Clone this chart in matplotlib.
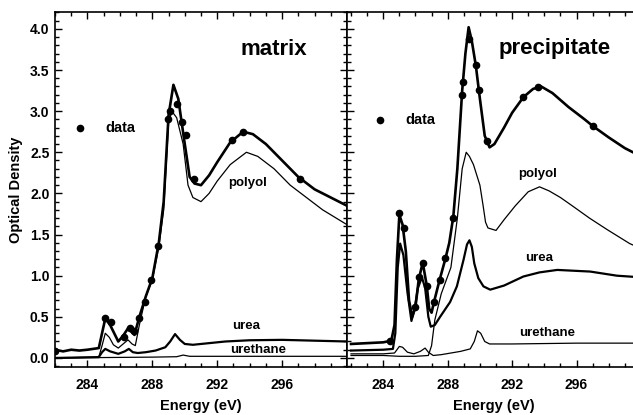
import matplotlib
matplotlib.use("Agg")
import matplotlib.pyplot as plt
from matplotlib.ticker import MultipleLocator

plt.rcParams['font.family'] = ['Liberation Sans', 'DejaVu Sans']
plt.rcParams['font.weight'] = 'bold'

# ---------------- matrix panel ----------------
m_total_x = [282.0, 282.5, 283.0, 283.5, 284.0, 284.7, 284.9, 285.1, 285.4, 285.9, 286.2, 286.5, 286.9,
             287.2, 287.6, 288.0, 288.4, 288.7, 289.0, 289.3, 289.6, 290.0, 290.3, 290.6, 291.0, 291.5,
             292.0, 292.8, 293.6, 294.2, 295.0, 296.0, 297.0, 298.0, 299.0, 300.0]
m_total_y = [0.10, 0.08, 0.10, 0.09, 0.10, 0.12, 0.30, 0.48, 0.40, 0.20, 0.27, 0.36, 0.28,
             0.50, 0.75, 0.97, 1.40, 1.90, 2.95, 3.32, 3.15, 2.60, 2.20, 2.12, 2.10, 2.22,
             2.38, 2.62, 2.75, 2.72, 2.60, 2.40, 2.20, 2.05, 1.95, 1.85]

m_polyol_x = [282.0, 284.7, 284.9, 285.1, 285.35, 285.6, 285.9, 286.2, 286.5, 286.75, 286.95, 287.2,
              287.6, 288.0, 288.4, 288.7, 289.0, 289.2, 289.5, 289.9, 290.2, 290.5, 291.0, 291.5,
              292.0, 292.8, 293.8, 294.5, 295.5, 296.5, 297.5, 298.5, 300.0]
m_polyol_y = [0.00, 0.01, 0.15, 0.30, 0.25, 0.16, 0.12, 0.17, 0.22, 0.17, 0.15, 0.40,
              0.75, 0.95, 1.35, 1.80, 2.85, 3.00, 2.92, 2.60, 2.10, 1.95, 1.90, 2.00,
              2.15, 2.35, 2.50, 2.45, 2.30, 2.10, 1.95, 1.80, 1.62]

m_urea_x = [282.0, 284.7, 284.9, 285.1, 285.4, 285.9, 286.3, 286.55, 286.8, 287.1, 287.6, 288.2,
            288.8, 289.1, 289.4, 289.7, 290.0, 290.5, 291.5, 292.5, 294.0, 296.0, 298.0, 300.0]
m_urea_y = [0.00, 0.01, 0.07, 0.11, 0.08, 0.05, 0.08, 0.11, 0.07, 0.06, 0.07, 0.09,
            0.13, 0.20, 0.29, 0.22, 0.17, 0.16, 0.18, 0.20, 0.215, 0.22, 0.21, 0.20]

m_ureth_x = [282.0, 288.0, 289.5, 289.9, 290.3, 292.0, 300.0]
m_ureth_y = [0.00, 0.01, 0.015, 0.035, 0.02, 0.02, 0.02]

m_data_x = [282.0, 285.1, 285.45, 286.25, 286.6, 286.85, 287.2, 287.55, 287.9, 288.35, 288.95,
            289.1, 289.5, 289.8, 290.05, 290.55, 292.9, 293.6, 297.1]
m_data_y = [0.09, 0.48, 0.44, 0.26, 0.36, 0.33, 0.48, 0.68, 0.95, 1.36, 2.91,
            3.00, 3.09, 2.87, 2.71, 2.18, 2.65, 2.75, 2.17]

# ---------------- precipitate panel ----------------
p_total_x = [282.0, 283.0, 284.0, 284.5, 284.7, 284.85, 285.0, 285.2, 285.4, 285.6, 285.8, 286.0,
             286.2, 286.45, 286.7, 286.85, 287.0, 287.15, 287.5, 287.85, 288.1, 288.35, 288.6, 288.9,
             289.1, 289.3, 289.5, 289.75, 290.0, 290.3, 290.6, 290.9, 291.5, 292.0, 292.7, 293.3,
             293.8, 294.5, 295.5, 296.5, 297.0, 298.0, 299.0, 300.0]
p_total_y = [0.17, 0.18, 0.19, 0.21, 0.40, 1.20, 1.74, 1.62, 1.30, 0.70, 0.50, 0.62,
             0.95, 1.16, 0.88, 0.60, 0.55, 0.68, 0.95, 1.20, 1.40, 1.72, 2.30, 3.25,
             3.70, 4.02, 3.85, 3.55, 3.15, 2.70, 2.56, 2.60, 2.80, 2.98, 3.17, 3.27,
             3.30, 3.22, 3.05, 2.90, 2.82, 2.68, 2.55, 2.45]

p_polyol_x = [282.0, 284.0, 285.0, 286.0, 286.8, 287.0, 287.2, 287.6, 288.2, 288.6, 288.9, 289.15,
              289.35, 289.6, 290.0, 290.2, 290.35, 290.5, 291.0, 291.5, 292.2, 293.0, 293.7, 294.3,
              295.0, 295.8, 296.8, 297.9, 299.3, 300.0]
p_polyol_y = [0.03, 0.03, 0.02, 0.02, 0.03, 0.15, 0.46, 0.78, 1.10, 1.70, 2.30, 2.50,
              2.45, 2.35, 2.10, 1.85, 1.65, 1.58, 1.55, 1.68, 1.85, 2.02, 2.08, 2.03,
              1.95, 1.84, 1.70, 1.56, 1.39, 1.33]

p_urea_x = [282.0, 284.0, 284.6, 284.75, 284.9, 285.05, 285.25, 285.5, 285.75, 285.95, 286.15, 286.4,
            286.6, 286.8, 286.95, 287.2, 287.53, 288.15, 288.57, 288.98, 289.2, 289.35, 289.5, 289.65,
            289.9, 290.22, 290.64, 291.5, 292.7, 293.7, 294.8, 296.85, 298.5, 300.0]
p_urea_y = [0.09, 0.10, 0.11, 0.30, 1.10, 1.39, 1.25, 0.80, 0.45, 0.60, 0.85, 0.98,
            0.85, 0.50, 0.38, 0.40, 0.50, 0.68, 0.87, 1.19, 1.38, 1.43, 1.35, 1.15,
            0.97, 0.87, 0.83, 0.88, 0.99, 1.04, 1.07, 1.05, 1.00, 0.98]

p_ureth_x = [282.0, 284.0, 284.7, 285.0, 285.2, 285.5, 285.9, 286.3, 286.6, 286.8, 287.1, 287.6,
             288.2, 288.8, 289.4, 289.65, 289.85, 290.05, 290.3, 290.6, 292.0, 296.0, 300.0]
p_ureth_y = [0.05, 0.05, 0.06, 0.14, 0.13, 0.07, 0.05, 0.08, 0.12, 0.07, 0.03, 0.04,
             0.06, 0.08, 0.11, 0.20, 0.33, 0.30, 0.20, 0.17, 0.17, 0.18, 0.18]

p_data_x = [284.45, 285.0, 285.3, 285.95, 286.2, 286.45, 286.7, 287.15, 287.5, 287.85, 288.35,
            288.9, 288.95, 289.3, 289.75, 289.95, 290.45, 292.7, 293.6, 297.0]
p_data_y = [0.20, 1.76, 1.58, 0.62, 0.99, 1.15, 0.87, 0.68, 0.95, 1.21, 1.70,
            3.20, 3.36, 3.88, 3.56, 3.26, 2.64, 3.17, 3.29, 2.82]

xticks = [284, 288, 292, 296]
yticks = [0.0, 0.5, 1.0, 1.5, 2.0, 2.5, 3.0, 3.5, 4.0]

W, H = 633, 415
fig = plt.figure(figsize=(W / 100, H / 100), dpi=100)
ax1 = fig.add_axes([55 / W, (H - 367) / H, 292 / W, 355 / H])
ax2 = fig.add_axes([347 / W, (H - 367) / H, 294 / W, 355 / H])

THICK, MED, THIN = 1.9, 1.6, 0.9

def style(ax, xlim, show_y):
    ax.set_xlim(*xlim)
    ax.set_ylim(-0.11, 4.205)
    ax.set_xticks(xticks)
    ax.xaxis.set_minor_locator(MultipleLocator(1))
    ax.yaxis.set_minor_locator(MultipleLocator(0.1))
    ax.set_yticks(yticks)
    ax.tick_params(which='both', direction='in', top=True, right=True, width=1.0, colors='black')
    ax.tick_params(which='major', length=5)
    ax.tick_params(which='minor', length=3)
    ax.tick_params(axis='x', labelsize=10, pad=8)
    ax.tick_params(axis='y', labelsize=10, pad=4, labelleft=show_y)
    for lab in ax.get_xticklabels() + ax.get_yticklabels():
        lab.set_fontweight('bold')
    if show_y:
        ax.set_yticklabels([f"{v:.1f}" for v in yticks], fontweight='bold')
    for s in ax.spines.values():
        s.set_linewidth(1.2)
    ax.set_xlabel("Energy (eV)", fontsize=10.5, fontweight='bold', labelpad=5)

# matrix
ax1.plot(m_ureth_x, m_ureth_y, color='black', lw=THIN)
ax1.plot(m_urea_x, m_urea_y, color='black', lw=MED)
ax1.plot(m_polyol_x, m_polyol_y, color='black', lw=THIN)
ax1.plot(m_total_x, m_total_y, color='black', lw=THICK)
ax1.plot(m_data_x, m_data_y, 'o', color='black', ms=4.5)
ax1.plot([283.57], [2.80], 'o', color='black', ms=4.5)
ax1.text(285.1, 2.79, "data", fontsize=10.5, fontweight='bold', va='center', ha='left')
ax1.text(295.5, 3.75, "matrix", fontsize=16, fontweight='bold', va='center', ha='center')
ax1.text(293.9, 2.13, "polyol", fontsize=9.5, fontweight='bold', va='center', ha='center')
ax1.text(293.8, 0.39, "urea", fontsize=9.5, fontweight='bold', va='center', ha='center')
ax1.text(294.5, 0.10, "urethane", fontsize=9.5, fontweight='bold', va='center', ha='center')
style(ax1, (282.0, 300.0), True)
ax1.set_ylabel("Optical Density", fontsize=10.5, fontweight='bold', labelpad=5)

# precipitate
ax2.plot(p_ureth_x, p_ureth_y, color='black', lw=THIN)
ax2.plot(p_polyol_x, p_polyol_y, color='black', lw=THIN)
ax2.plot(p_urea_x, p_urea_y, color='black', lw=MED)
ax2.plot(p_total_x, p_total_y, color='black', lw=THICK)
ax2.plot(p_data_x, p_data_y, 'o', color='black', ms=4.5)
ax2.plot([283.8], [2.89], 'o', color='black', ms=4.5)
ax2.text(285.35, 2.89, "data", fontsize=10.5, fontweight='bold', va='center', ha='left')
ax2.text(294.64, 3.76, "precipitate", fontsize=16, fontweight='bold', va='center', ha='center')
ax2.text(293.6, 2.24, "polyol", fontsize=9.5, fontweight='bold', va='center', ha='center')
ax2.text(293.7, 1.22, "urea", fontsize=9.5, fontweight='bold', va='center', ha='center')
ax2.text(294.2, 0.30, "urethane", fontsize=9.5, fontweight='bold', va='center', ha='center')
style(ax2, (281.75, 300.0), False)

fig.savefig("out.png", dpi=100)
